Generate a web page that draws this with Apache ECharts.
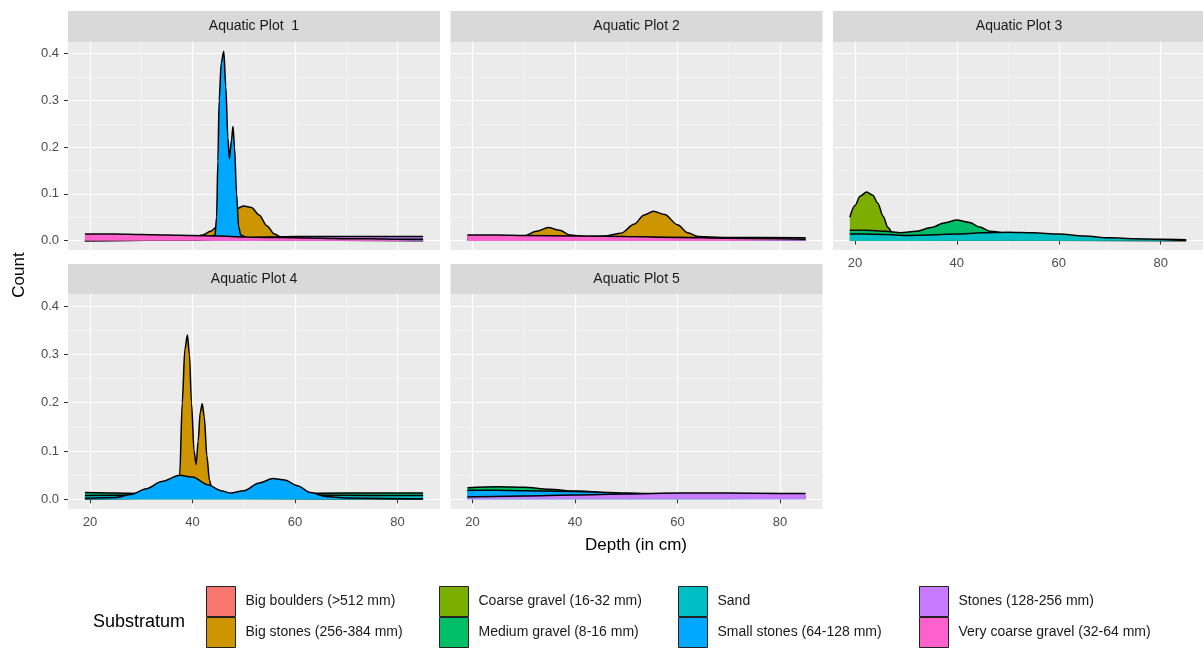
<!DOCTYPE html>
<html>
<head>
<meta charset="utf-8">
<title>Depth by substratum</title>
<script src="https://cdn.jsdelivr.net/npm/echarts@6/dist/echarts.min.js"></script>
<style>
  html, body { margin: 0; padding: 0; background: #fff; }
  #chart { width: 1203px; height: 649px; }
</style>
</head>
<body>
<div id="chart"></div>
<script>
// substrata in factor order (later ones are drawn on top)
const substrata = [
  'Big boulders (>512 mm)',
  'Big stones (256-384 mm)',
  'Coarse gravel (16-32 mm)',
  'Medium gravel (8-16 mm)',
  'Sand',
  'Small stones (64-128 mm)',
  'Stones (128-256 mm)',
  'Very coarse gravel (32-64 mm)'
]
const plotNames = ['Aquatic Plot  1', 'Aquatic Plot 2', 'Aquatic Plot 3', 'Aquatic Plot 4', 'Aquatic Plot 5']
const depthTicks = [20, 40, 60, 80]
const depthMinor = [30, 50, 70]
const countTicks = [0, 0.1, 0.2, 0.3, 0.4]
const countMinor = [0.05, 0.15, 0.25, 0.35]

// density curves, [depth, count]
const plot1BigStones = [[19, 0.001], [35, 0.002], [40, 0.006], [42, 0.012], [43.5, 0.02], [45, 0.032], [47, 0.055], [48.5, 0.068], [50, 0.074], [51.5, 0.071], [53, 0.055], [54.5, 0.032], [56, 0.014], [57.5, 0.006], [60, 0.003], [70, 0.002], [85, 0.001]]
const plot1SmallStones = [[19, 0], [40, 0.001], [43, 0.005], [44.4, 0.012], [44.7, 0.05], [44.95, 0.17], [45.2, 0.3], [45.6, 0.38], [46.1, 0.405], [46.5, 0.33], [46.9, 0.22], [47.2, 0.175], [47.6, 0.215], [47.9, 0.244], [48.2, 0.2], [48.6, 0.1], [49, 0.03], [49.4, 0.012], [51, 0.004], [55, 0.001], [85, 0]]
const plot1Stones = [[19, 0], [40, 0.001], [45, 0.003], [50, 0.006], [55, 0.008], [60, 0.009], [70, 0.009], [80, 0.009], [85, 0.009]]
const plot1VeryCoarse = [[19, 0.014], [25, 0.014], [30, 0.013], [35, 0.012], [40, 0.011], [45, 0.01], [50, 0.008], [55, 0.007], [60, 0.006], [65, 0.005], [70, 0.004], [75, 0.004], [80, 0.003], [85, 0.003]]

const plot2BigBoulders = [[19, 0.009], [25, 0.008], [30, 0.007], [40, 0.005], [50, 0.004], [60, 0.003], [70, 0.002], [85, 0.001]]
const plot2BigStones = [[19, 0.003], [26, 0.005], [30, 0.01], [32.5, 0.02], [34.8, 0.028], [37, 0.022], [39, 0.012], [42, 0.009], [46, 0.01], [49, 0.016], [51.5, 0.035], [53.5, 0.055], [55.3, 0.063], [57.5, 0.056], [60, 0.034], [62, 0.017], [64, 0.009], [70, 0.006], [85, 0.004]]
const plot2Stones = [[19, 0.003], [30, 0.004], [40, 0.005], [50, 0.006], [60, 0.007], [70, 0.007], [85, 0.006]]
const plot2VeryCoarse = [[19, 0.012], [25, 0.012], [30, 0.011], [40, 0.01], [50, 0.009], [60, 0.007], [70, 0.005], [85, 0.003]]

const plot3CoarseGravel = [[19, 0.05], [20, 0.075], [21, 0.095], [22.3, 0.104], [23.5, 0.097], [24.5, 0.08], [25.5, 0.053], [26.5, 0.028], [27.5, 0.014], [29, 0.007], [32, 0.003], [40, 0.001], [85, 0]]
const plot3MediumGravel = [[19, 0.022], [22, 0.022], [26, 0.02], [29, 0.017], [32, 0.02], [35, 0.028], [37.5, 0.038], [40, 0.044], [42.5, 0.039], [44.5, 0.029], [46.5, 0.02], [50, 0.016], [55, 0.012], [60, 0.008], [65, 0.004], [70, 0.002], [85, 0.001]]
const plot3Sand = [[19, 0.014], [22, 0.014], [26, 0.013], [30, 0.011], [34, 0.012], [40, 0.014], [45, 0.017], [50, 0.018], [55, 0.017], [60, 0.014], [65, 0.01], [70, 0.006], [75, 0.004], [80, 0.003], [85, 0.002]]

const plot4BigStones = [[19, 0], [30, 0.002], [34, 0.008], [36.5, 0.03], [37.5, 0.05], [38, 0.2], [38.5, 0.31], [39, 0.34], [39.4, 0.3], [39.8, 0.2], [40.3, 0.1], [40.7, 0.072], [41.1, 0.12], [41.5, 0.18], [41.9, 0.198], [42.3, 0.17], [42.8, 0.09], [43.3, 0.04], [43.8, 0.02], [45, 0.008], [50, 0.002], [85, 0]]
const plot4MediumGravel = [[19, 0.014], [25, 0.013], [30, 0.012], [40, 0.011], [50, 0.011], [60, 0.012], [70, 0.013], [85, 0.013]]
const plot4Sand = [[19, 0.008], [30, 0.009], [45, 0.01], [60, 0.009], [75, 0.008], [85, 0.008]]
const plot4SmallStones = [[19, 0.002], [25, 0.004], [28, 0.01], [31, 0.022], [34, 0.037], [37.5, 0.05], [40, 0.046], [43, 0.03], [45.5, 0.018], [47.5, 0.013], [50, 0.018], [53, 0.034], [55.7, 0.043], [58, 0.04], [60.5, 0.028], [63, 0.014], [66, 0.006], [70, 0.003], [85, 0.001]]

const plot5MediumGravel = [[19, 0.024], [25, 0.026], [30, 0.025], [35, 0.021], [40, 0.017], [50, 0.011], [60, 0.007], [70, 0.004], [85, 0.002]]
const plot5SmallStones = [[19, 0.019], [25, 0.019], [30, 0.018], [40, 0.016], [50, 0.013], [60, 0.01], [70, 0.008], [85, 0.006]]
const plot5Stones = [[19, 0.005], [30, 0.007], [40, 0.009], [50, 0.011], [60, 0.013], [70, 0.013], [80, 0.012], [85, 0.012]]

// which curves go in which facet (factor order)
const plotCurves = [
  [[1, plot1BigStones], [5, plot1SmallStones], [6, plot1Stones], [7, plot1VeryCoarse]],
  [[0, plot2BigBoulders], [1, plot2BigStones], [6, plot2Stones], [7, plot2VeryCoarse]],
  [[2, plot3CoarseGravel], [3, plot3MediumGravel], [4, plot3Sand]],
  [[1, plot4BigStones], [3, plot4MediumGravel], [4, plot4Sand], [5, plot4SmallStones]],
  [[3, plot5MediumGravel], [5, plot5SmallStones], [6, plot5Stones]]
]

// ggplot hue palette
const fills = ['#F8766D', '#CD9600', '#7CAE00', '#00BE67', '#00BFC4', '#00A9FF', '#C77CFF', '#FF61CC']

const font = '"Liberation Sans", Arial, sans-serif'
const boxes = [
  { left: 68, top: 42, width: 372, height: 208 },
  { left: 450.5, top: 42, width: 372, height: 208 },
  { left: 833, top: 42, width: 372, height: 208 },
  { left: 68, top: 294, width: 372, height: 215 },
  { left: 450.5, top: 294, width: 372, height: 215 }
]
const strips = [[11, 31], [11, 31], [11, 31], [264, 30], [264, 30]]
const showX = [false, false, true, true, true]
const showY = [true, false, false, true, false]

const grid = [], xAxis = [], yAxis = [], series = [], graphic = []

boxes.forEach((b, i) => {
  grid.push({ left: b.left, top: b.top, width: b.width, height: b.height, show: true, backgroundColor: '#EBEBEB', borderWidth: 0 })
  // major depth axis
  xAxis.push({
    gridIndex: i, type: 'value', min: 15.7, max: 88.3,
    axisLine: { show: false },
    axisTick: { show: showX[i], length: 4, customValues: depthTicks, lineStyle: { color: '#333' } },
    axisLabel: { show: showX[i], customValues: depthTicks, color: '#4D4D4D', fontSize: 13, fontFamily: font, margin: 7 },
    splitLine: { show: true, lineStyle: { color: '#FFFFFF', width: 1.2 } }
  })
  // minor depth gridlines
  xAxis.push({
    gridIndex: i, type: 'value', min: 15.7, max: 88.3, position: 'top',
    axisLine: { show: false },
    axisTick: { show: false, customValues: depthMinor },
    axisLabel: { show: false, customValues: depthMinor },
    splitLine: { show: true, lineStyle: { color: '#F5F5F5', width: 0.7 } }
  })
  yAxis.push({
    gridIndex: i, type: 'value', min: -0.02, max: 0.425,
    axisLine: { show: false },
    axisTick: { show: showY[i], length: 4, customValues: countTicks, lineStyle: { color: '#333' } },
    axisLabel: {
      show: showY[i], customValues: countTicks, color: '#4D4D4D', fontSize: 13, fontFamily: font, margin: 9,
      formatter: v => v.toFixed(1)
    },
    splitLine: { show: true, lineStyle: { color: '#FFFFFF', width: 1.2 } }
  })
  yAxis.push({
    gridIndex: i, type: 'value', min: -0.02, max: 0.425, position: 'right',
    axisLine: { show: false },
    axisTick: { show: false, customValues: countMinor },
    axisLabel: { show: false, customValues: countMinor },
    splitLine: { show: true, lineStyle: { color: '#F5F5F5', width: 0.7 } }
  })

  plotCurves[i].forEach(([k, pts]) => {
    series.push({
      name: substrata[k],
      type: 'line',
      xAxisIndex: i * 2,
      yAxisIndex: i * 2,
      data: pts,
      showSymbol: false,
      symbol: 'none',
      smooth: 0.3,
      smoothMonotone: 'x',
      silent: true,
      z: 3 + k, // later levels fully over earlier ones
      color: fills[k],
      itemStyle: { color: fills[k] },
      lineStyle: { color: '#000', width: 1.5 },
      areaStyle: { color: fills[k], opacity: 1 }
    })
  })

  // facet strip
  graphic.push({
    type: 'rect', silent: true, z: 0,
    shape: { x: b.left, y: strips[i][0], width: b.width, height: strips[i][1] },
    style: { fill: '#D9D9D9' }
  })
  graphic.push({
    type: 'text', silent: true, z: 1,
    x: b.left + b.width / 2, y: strips[i][0] + strips[i][1] / 2,
    style: { text: plotNames[i], fill: '#1A1A1A', font: '14px ' + font, align: 'center', verticalAlign: 'middle' }
  })
})

graphic.push({
  type: 'text', silent: true,
  x: 19, y: 275, rotation: Math.PI / 2,
  style: { text: 'Count', fill: '#000', font: '17px ' + font, align: 'center', verticalAlign: 'middle' }
})
graphic.push({
  type: 'text', silent: true,
  x: 636, y: 545,
  style: { text: 'Depth (in cm)', fill: '#000', font: '17px ' + font, align: 'center', verticalAlign: 'middle' }
})
graphic.push({
  type: 'text', silent: true,
  x: 93, y: 622,
  style: { text: 'Substratum', fill: '#000', font: '18px ' + font, align: 'left', verticalAlign: 'middle' }
})

// legend: 4 columns of 2 keys
const legendLefts = [206, 439, 678, 919]
const legend = legendLefts.map((left, c) => ({
  orient: 'vertical',
  left: left,
  top: 586,
  padding: 0,
  itemWidth: 29,
  itemHeight: 30,
  itemGap: 0,
  icon: 'rect',
  selectedMode: false,
  data: substrata.slice(c * 2, c * 2 + 2),
  itemStyle: { borderColor: '#222', borderWidth: 1 },
  textStyle: { color: '#1A1A1A', fontSize: 14, fontFamily: font, padding: [0, 0, 0, 5] }
}))

const chart = echarts.init(document.getElementById('chart'))
chart.setOption({
  animation: false,
  backgroundColor: '#FFFFFF',
  grid: grid,
  xAxis: xAxis,
  yAxis: yAxis,
  legend: legend,
  graphic: graphic,
  series: series
})
</script>
</body>
</html>
